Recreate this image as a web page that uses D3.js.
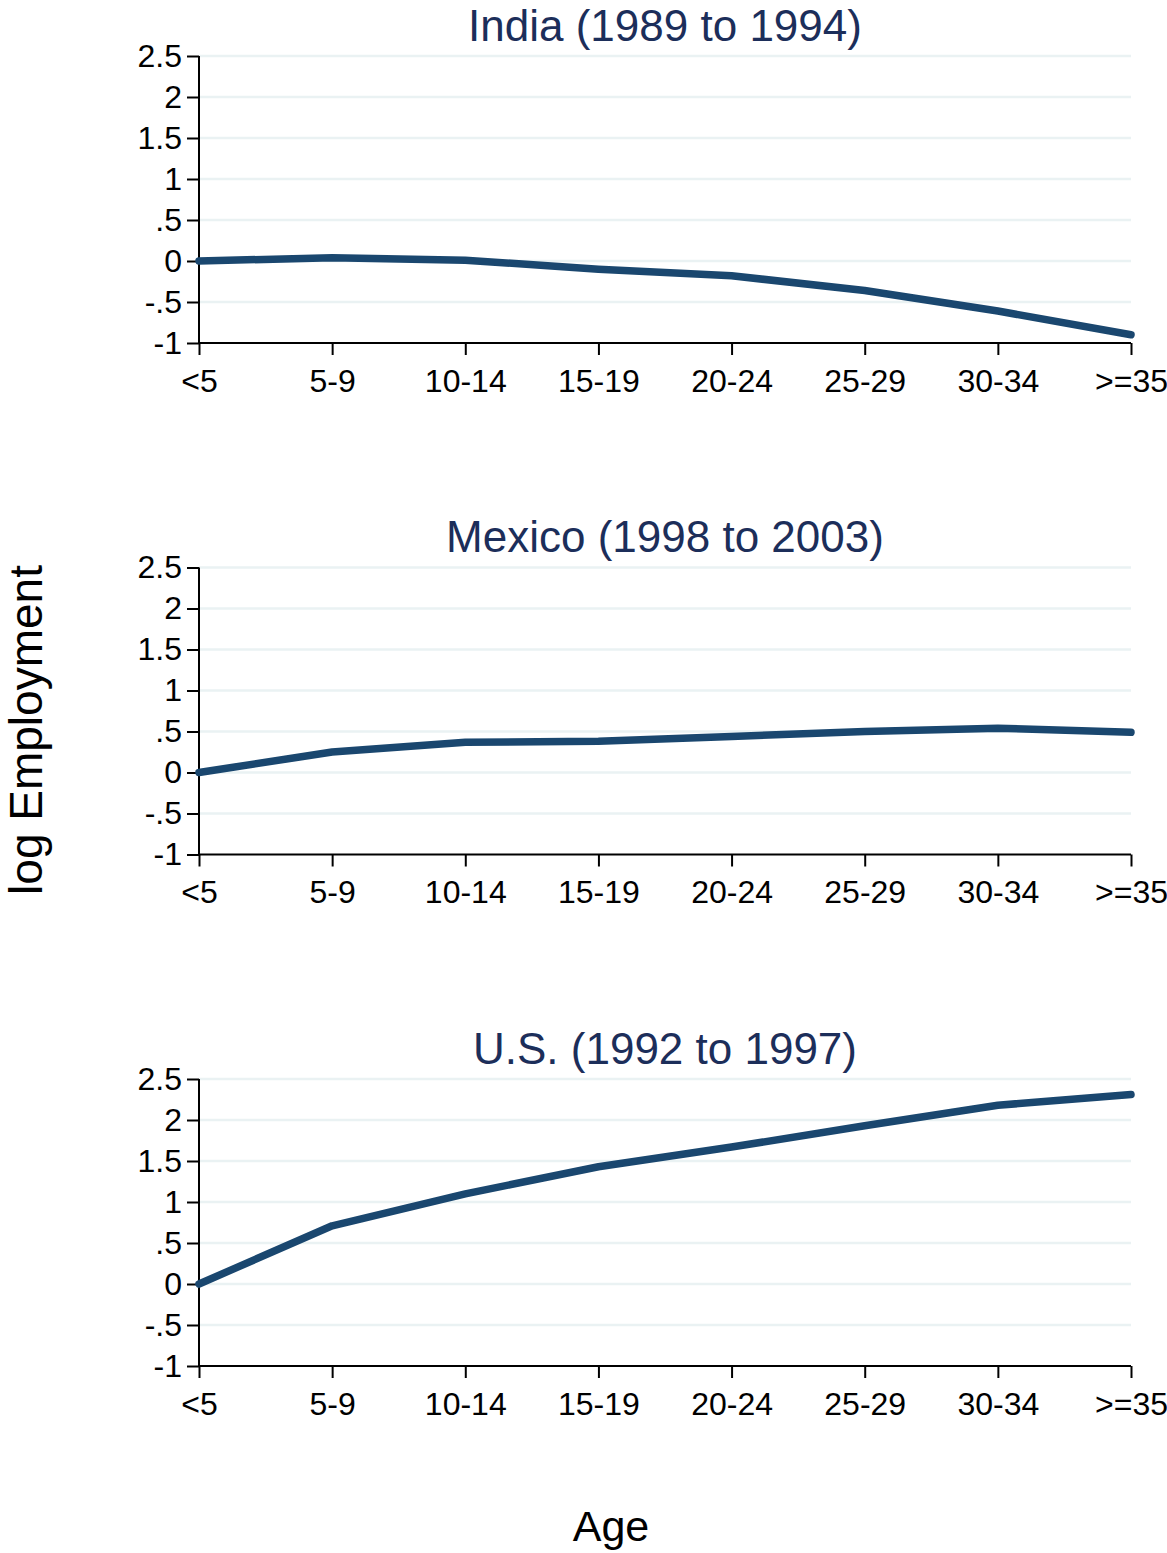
<!DOCTYPE html>
<html>
<head>
<meta charset="utf-8">
<script src="https://cdn.jsdelivr.net/npm/d3@7"></script>
<style>
  body { margin: 0; background: #fff; }
  svg { display: block; font-family: "Liberation Sans", Arial, sans-serif; }
</style>
</head>
<body>
<svg width="1167" height="1553"></svg>
<script>
// age groups on the x axis
var ageGroups = ["<5", "5-9", "10-14", "15-19", "20-24", "25-29", "30-34", ">=35"];
var yTicks = [-1, -0.5, 0, 0.5, 1, 1.5, 2, 2.5];
var yTickLabels = ["-1", "-.5", "0", ".5", "1", "1.5", "2", "2.5"];
var titles = ["India (1989 to 1994)", "Mexico (1998 to 2003)", "U.S. (1992 to 1997)"];

var india = [0, 0.04, 0.01, -0.1, -0.18, -0.36, -0.61, -0.9];
var mexico = [0, 0.25, 0.37, 0.38, 0.44, 0.5, 0.54, 0.49];
var us = [0, 0.71, 1.1, 1.43, 1.67, 1.93, 2.18, 2.31];
var series = [india, mexico, us];

var svg = d3.select("svg");
var left = 199, right = 1131, plotH = 287;
var lineColor = "#1a476f", titleColor = "#1c2e5a";

var x = d3.scalePoint().domain(ageGroups).range([left, right]);

series.forEach(function(vals, i) {
  var top = 56 + i * 511.5;
  var y = d3.scaleLinear().domain([-1, 2.5]).range([top + plotH, top]);
  var g = svg.append("g");

  // gridlines
  g.selectAll(".grid")
    .data(yTicks.filter(function(t) { return t > -1; }))
    .enter().append("line")
    .attr("x1", left).attr("x2", right)
    .attr("y1", function(d) { return y(d); })
    .attr("y2", function(d) { return y(d); })
    .attr("stroke", "#eaf2f3")
    .attr("stroke-width", 2.5);

  // y axis
  var yAxis = d3.axisLeft(y).tickValues(yTicks).tickSize(12).tickPadding(5)
    .tickFormat(function(d, k) { return yTickLabels[k]; });
  var ya = g.append("g").attr("transform", "translate(" + left + ",0)").call(yAxis);
  ya.select(".domain").attr("stroke", "#000").attr("stroke-width", 2).attr("d", "M0," + y(2.5) + "V" + y(-1));
  ya.selectAll(".tick line").attr("stroke", "#000").attr("stroke-width", 2);
  ya.selectAll(".tick text").attr("font-size", 32).attr("fill", "#000")
    .attr("font-family", "Liberation Sans, Arial, sans-serif");

  // x axis
  var xAxis = d3.axisBottom(x).tickSize(12).tickPadding(14);
  var xa = g.append("g").attr("transform", "translate(0," + (top + plotH) + ")").call(xAxis);
  xa.select(".domain").attr("stroke", "#000").attr("stroke-width", 2).attr("d", "M" + left + ",0H" + right);
  xa.selectAll(".tick line").attr("stroke", "#000").attr("stroke-width", 2);
  xa.selectAll(".tick text").attr("font-size", 32).attr("fill", "#000")
    .attr("font-family", "Liberation Sans, Arial, sans-serif");

  // line
  var line = d3.line()
    .x(function(d, k) { return x(ageGroups[k]); })
    .y(function(d) { return y(d); });
  g.append("path")
    .datum(vals)
    .attr("d", line)
    .attr("fill", "none")
    .attr("stroke", lineColor)
    .attr("stroke-width", 7.5)
    .attr("stroke-linecap", "round")
    .attr("stroke-linejoin", "round");

  // title
  g.append("text")
    .attr("x", (left + right) / 2)
    .attr("y", top - 15.5)
    .attr("text-anchor", "middle")
    .attr("font-size", 44)
    .attr("fill", titleColor)
    .text(titles[i]);
});

svg.append("text")
  .attr("transform", "translate(42,730) rotate(-90)")
  .attr("text-anchor", "middle")
  .attr("font-size", 46)
  .text("log Employment");

svg.append("text")
  .attr("x", 611)
  .attr("y", 1541)
  .attr("text-anchor", "middle")
  .attr("font-size", 43)
  .text("Age");
</script>
</body>
</html>
